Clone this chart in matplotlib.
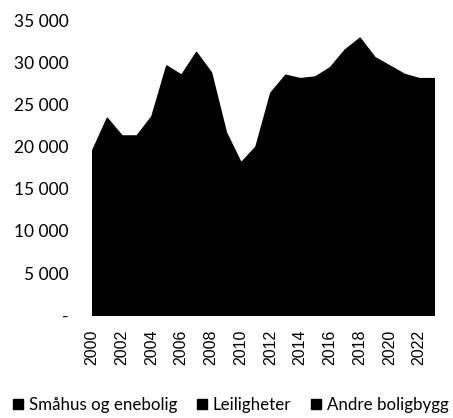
import matplotlib.pyplot as plt
from matplotlib.lines import Line2D

years = list(range(2000, 2024))
# fullførte boliger etter type (lest av figuren, summen er toppen av arealet)
smahus = [10400, 12100, 11000, 10900, 12000, 14600, 13800, 14900, 13500, 10000, 8300, 9300,
          11900, 12500, 12100, 12000, 12400, 12900, 13200, 12300, 11700, 11300, 10900, 10800]
leiligheter = [6900, 8700, 7800, 7900, 8700, 11600, 11300, 12700, 12100, 9200, 7800, 8600,
               11800, 13100, 13100, 13400, 14000, 15300, 16300, 15100, 14800, 14400, 14600, 14700]
andre = [2200, 2600, 2500, 2500, 2900, 3400, 3400, 3600, 3200, 2500, 2000, 2100,
         2700, 2900, 2900, 2900, 3000, 3300, 3400, 3200, 3100, 2900, 2600, 2600]
labels = ["Småhus og enebolig", "Leiligheter", "Andre boligbygg"]

fig = plt.figure(figsize=(4.53, 4.18), dpi=100)
ax = fig.add_axes([0.203, 0.246, 0.755, 0.706])

ax.stackplot(years, smahus, leiligheter, andre, colors=["black", "black", "black"],
             edgecolor="black", linewidth=1.2)

ax.set_xlim(2000, 2023)
ax.set_ylim(0, 35000)
ax.set_xticks(years[::2])
ax.set_xticklabels([str(y) for y in years[::2]], rotation=90, fontsize=11.5,
                   family="Liberation Sans")
yt = list(range(0, 35001, 5000))
ax.set_yticks(yt)
ax.set_yticklabels(["-"] + [f"{v // 1000} 000" for v in yt[1:]], fontsize=12.5, family="Lato")
ax.tick_params(axis="x", length=0, pad=10.5)
ax.tick_params(axis="y", length=0, pad=17)
for s in ax.spines.values():
    s.set_visible(False)

handles = [Line2D([], [], marker="s", color="black", linestyle="none", markersize=7.5)
           for _ in labels]
fig.legend(handles, labels, loc="center left", bbox_to_anchor=(0.022, 0.031), ncol=3,
           frameon=False, prop={"family": "Lato", "size": 12.2}, handletextpad=0.1,
           columnspacing=1.0, handlelength=1.0, borderaxespad=0, borderpad=0)

fig.savefig("out.png", dpi=100)
